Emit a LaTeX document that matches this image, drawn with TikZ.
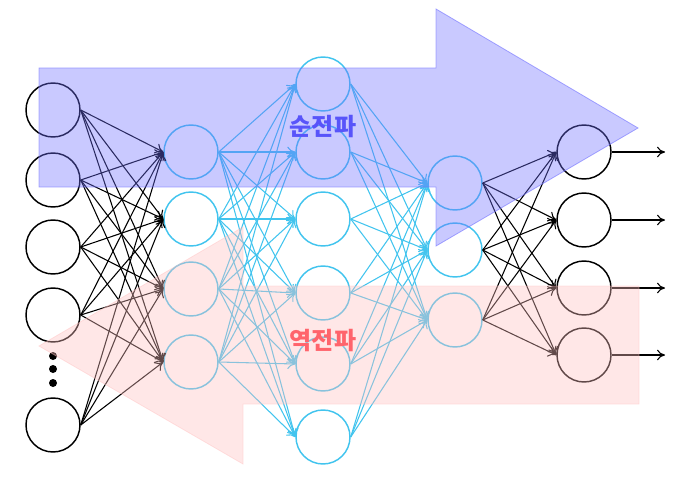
\documentclass[tikz,border=0pt]{standalone}
\usepackage{fontspec}
\newfontfamily\krfont{Noto Sans CJK KR}
\usetikzlibrary{arrows.meta}

\definecolor{netcyan}{RGB}{66,196,238}
\definecolor{fwdblue}{RGB}{112,112,255}
\definecolor{bwdred}{RGB}{255,192,192}
\definecolor{fwdtext}{RGB}{88,84,250}
\definecolor{bwdtext}{RGB}{255,100,108}

\tikzset{
    unit/.style={circle, draw=black, line width=1.1pt, minimum size=40.5pt, inner sep=0pt},
    hidunit/.style={unit, draw=netcyan},
    edge/.style={-{To[length=6pt,width=8pt]}, line width=0.8pt},
    hidedge/.style={edge, draw=netcyan},
}

\begin{document}
\begin{tikzpicture}[x=0.75pt, y=-0.75pt]
    \useasboundingbox (0,0) rectangle (691,481);

    % input layer
    \node[unit] (in1) at (53,110) {};
    \node[unit] (in2) at (53,180) {};
    \node[unit] (in3) at (53,247) {};
    \node[unit] (in4) at (53,315) {};
    \node[unit] (in5) at (53,425) {};
    \fill (53,356) circle (4) (53,369) circle (4) (53,383) circle (4);

    % hidden layers
    \node[hidunit] (hA1) at (191,152) {};
    \node[hidunit] (hA2) at (191,219) {};
    \node[hidunit] (hA3) at (191,289) {};
    \node[hidunit] (hA4) at (191,362) {};

    \node[hidunit] (hB1) at (323,84) {};
    \node[hidunit] (hB2) at (323,152) {};
    \node[hidunit] (hB3) at (323,219) {};
    \node[hidunit] (hB4) at (323,293) {};
    \node[hidunit] (hB5) at (323,364) {};
    \node[hidunit] (hB6) at (323,437) {};

    \node[hidunit] (hC1) at (455,183) {};
    \node[hidunit] (hC2) at (455,250) {};
    \node[hidunit] (hC3) at (455,320) {};

    % output layer
    \node[unit] (out1) at (584,152) {};
    \node[unit] (out2) at (584,220) {};
    \node[unit] (out3) at (584,288) {};
    \node[unit] (out4) at (584,355) {};

    \coordinate (o1) at (665,152);
    \coordinate (o2) at (665,220);
    \coordinate (o3) at (665,288);
    \coordinate (o4) at (665,355);

    % connections
    \foreach \i in {1,...,5}
        \foreach \j in {1,...,4}
            \draw[edge] (in\i.east) -- (hA\j.west);
    \foreach \i in {1,...,4}
        \foreach \j in {1,...,6}
            \draw[hidedge] (hA\i.east) -- (hB\j.west);
    \foreach \i in {1,...,6}
        \foreach \j in {1,...,3}
            \draw[hidedge] (hB\i.east) -- (hC\j.west);
    \foreach \i in {1,...,3}
        \foreach \j in {1,...,4}
            \draw[edge] (hC\i.east) -- (out\j.west);
    \foreach \j in {1,...,4}
        \draw[edge] (out\j.east) -- (o\j);

    % forward / backward arrows
    \filldraw[fill=fwdblue, fill opacity=0.38, draw=fwdblue, draw opacity=0.6, line width=0.6pt]
        (39,68) -- (436,68) -- (436,9) -- (638,128) -- (436,246) -- (436,187) -- (39,187) -- cycle;
    \filldraw[fill=bwdred, fill opacity=0.38, draw=bwdred, draw opacity=0.45, line width=0.6pt]
        (639,286) -- (243,286) -- (243,227) -- (39,346) -- (243,464) -- (243,404) -- (639,404) -- cycle;

    \node[text=fwdtext, font=\krfont\bfseries\fontsize{18}{20}\selectfont] (fwd) at (323,127) {순전파};
    \node[text=bwdtext, font=\krfont\bfseries\fontsize{18}{20}\selectfont] (bwd) at (323,341) {역전파};
\end{tikzpicture}
\end{document}
